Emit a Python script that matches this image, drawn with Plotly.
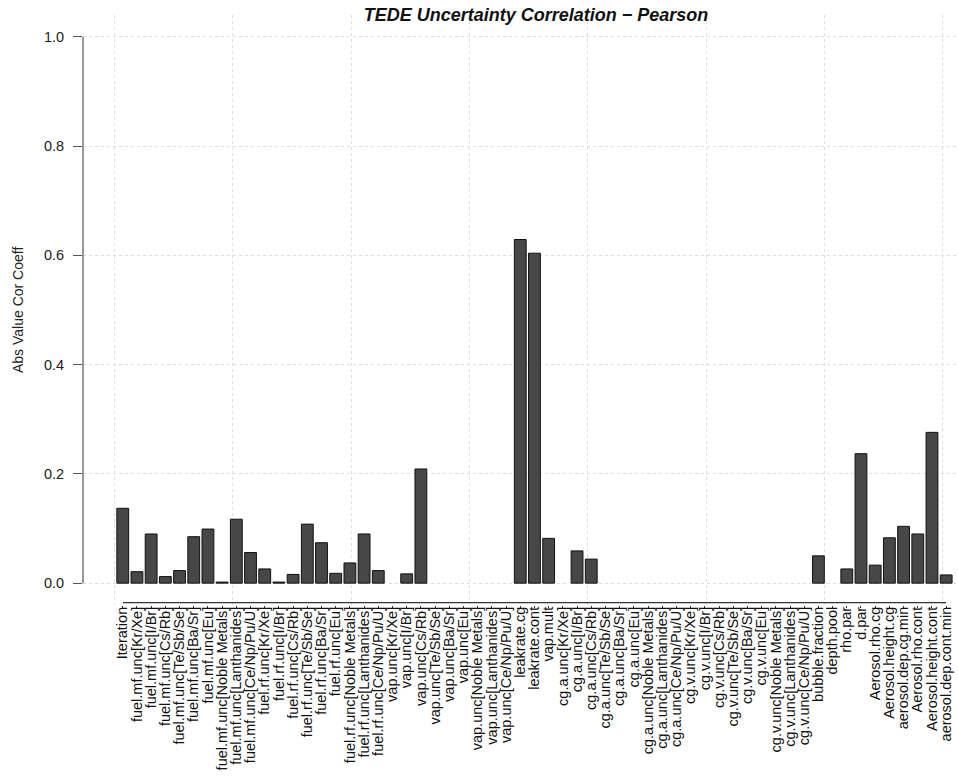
import plotly.graph_objects as go

# Parameter names (x categories)
params = [
    "Iteration",
    "fuel.mf.unc[Kr/Xe]", "fuel.mf.unc[I/Br]", "fuel.mf.unc[Cs/Rb]", "fuel.mf.unc[Te/Sb/Se]",
    "fuel.mf.unc[Ba/Sr]", "fuel.mf.unc[Eu]", "fuel.mf.unc[Noble Metals]",
    "fuel.mf.unc[Lanthanides]", "fuel.mf.unc[Ce/Np/Pu/U]",
    "fuel.rf.unc[Kr/Xe]", "fuel.rf.unc[I/Br]", "fuel.rf.unc[Cs/Rb]", "fuel.rf.unc[Te/Sb/Se]",
    "fuel.rf.unc[Ba/Sr]", "fuel.rf.unc[Eu]", "fuel.rf.unc[Noble Metals]",
    "fuel.rf.unc[Lanthanides]", "fuel.rf.unc[Ce/Np/Pu/U]",
    "vap.unc[Kr/Xe]", "vap.unc[I/Br]", "vap.unc[Cs/Rb]", "vap.unc[Te/Sb/Se]",
    "vap.unc[Ba/Sr]", "vap.unc[Eu]", "vap.unc[Noble Metals]",
    "vap.unc[Lanthanides]", "vap.unc[Ce/Np/Pu/U]",
    "leakrate.cg", "leakrate.cont", "vap.mult",
    "cg.a.unc[Kr/Xe]", "cg.a.unc[I/Br]", "cg.a.unc[Cs/Rb]", "cg.a.unc[Te/Sb/Se]",
    "cg.a.unc[Ba/Sr]", "cg.a.unc[Eu]", "cg.a.unc[Noble Metals]",
    "cg.a.unc[Lanthanides]", "cg.a.unc[Ce/Np/Pu/U]",
    "cg.v.unc[Kr/Xe]", "cg.v.unc[I/Br]", "cg.v.unc[Cs/Rb]", "cg.v.unc[Te/Sb/Se]",
    "cg.v.unc[Ba/Sr]", "cg.v.unc[Eu]", "cg.v.unc[Noble Metals]",
    "cg.v.unc[Lanthanides]", "cg.v.unc[Ce/Np/Pu/U]",
    "bubble.fraction", "depth.pool", "rho.par", "d.par",
    "Aerosol.rho.cg", "Aerosol.height.cg", "aerosol.dep.cg.min",
    "Aerosol.rho.cont", "Aerosol.height.cont", "aerosol.dep.cont.min",
]

# Absolute Pearson correlation with TEDE
abs_corr = [
    0.137,
    0.021, 0.090, 0.012, 0.023, 0.085, 0.099, 0.002, 0.117, 0.056,
    0.026, 0.002, 0.016, 0.108, 0.074, 0.018, 0.037, 0.090, 0.023,
    0.0, 0.017, 0.209, 0.0, 0.0, 0.0, 0.0, 0.0, 0.0,
    0.629, 0.604, 0.082,
    0.0, 0.059, 0.044, 0.0, 0.0, 0.0, 0.0, 0.0, 0.0,
    0.0, 0.0, 0.0, 0.0, 0.0, 0.0, 0.0, 0.0, 0.0,
    0.050, 0.0, 0.026, 0.237,
    0.033, 0.083, 0.104, 0.090, 0.276, 0.015,
]

y_ticks = [0.0, 0.2, 0.4, 0.6, 0.8, 1.0]
y_tick_text = ["0.0", "0.2", "0.4", "0.6", "0.8", "1.0"]

# barplot-style positions: unit-width bars separated by 0.2 gaps
bar_pos = [1.2 * (i + 1) - 0.5 for i in range(len(params))]
grid_x = [0, 10, 20, 30, 40, 50, 60, 70]

# zero-height bars get no outline
outline_w = [1 if v > 0 else 0 for v in abs_corr]

FONT = "Liberation Sans, Arial, sans-serif"
GRID = "#dedede"

fig = go.Figure(
    go.Bar(
        x=bar_pos,
        y=abs_corr,
        width=1.0,
        marker=dict(color="#474747", line=dict(color="#111111", width=outline_w)),
        hoverinfo="skip",
    )
)

fig.update_layout(
    width=958,
    height=780,
    margin=dict(l=83, r=0, t=15, b=175),
    paper_bgcolor="white",
    plot_bgcolor="white",
    showlegend=False,
    font=dict(family=FONT, color="#111111"),
    title=dict(
        text="<b><i>TEDE Uncertainty Correlation \u2212 Pearson</i></b>",
        xref="container", x=536 / 958, xanchor="center",
        yref="container", y=1 - 15 / 780, yanchor="middle",
        font=dict(family=FONT, size=18, color="#111111"),
    ),
    xaxis=dict(
        range=[-2.66, 71.30],
        tickmode="array",
        tickvals=bar_pos,
        ticktext=params,
        tickangle=-90,
        tickfont=dict(family=FONT, size=14.5, color="#111111"),
        ticks="outside",
        ticklen=2,
        tickcolor="#333333",
        ticklabelstandoff=-7,
        showline=False,
        showgrid=False,
        zeroline=False,
        minor=dict(
            tickvals=grid_x, showgrid=True, gridcolor=GRID,
            griddash="dot", gridwidth=1, ticks="",
        ),
    ),
    yaxis=dict(
        range=[-0.04, 1.04],
        tickmode="array",
        tickvals=y_ticks,
        ticktext=y_tick_text,
        tickfont=dict(family=FONT, size=14.5, color="#222222"),
        ticks="outside",
        ticklen=9,
        tickcolor="#555555",
        ticklabelstandoff=6,
        showline=False,
        showgrid=True,
        gridcolor=GRID,
        griddash="dot",
        gridwidth=1,
        zeroline=False,
    ),
)

# y axis line spans only the tick range
fig.add_shape(
    type="line", xref="paper", yref="y",
    x0=0, x1=0, y0=y_ticks[0], y1=y_ticks[-1],
    line=dict(color="#555555", width=1.2),
)
# x axis line runs from first to last bar centre
fig.add_shape(
    type="line", xref="x", yref="paper",
    x0=bar_pos[0], x1=bar_pos[-1], y0=0.004, y1=0.004,
    line=dict(color="#333333", width=1.2),
)

fig.add_annotation(
    text="Abs Value Cor Coeff",
    xref="paper", yref="paper",
    x=(18 - 83) / 875, y=0.5,
    xanchor="center", yanchor="middle",
    textangle=-90, showarrow=False,
    font=dict(family=FONT, size=14, color="#222222"),
)

fig.write_html("out.html")
